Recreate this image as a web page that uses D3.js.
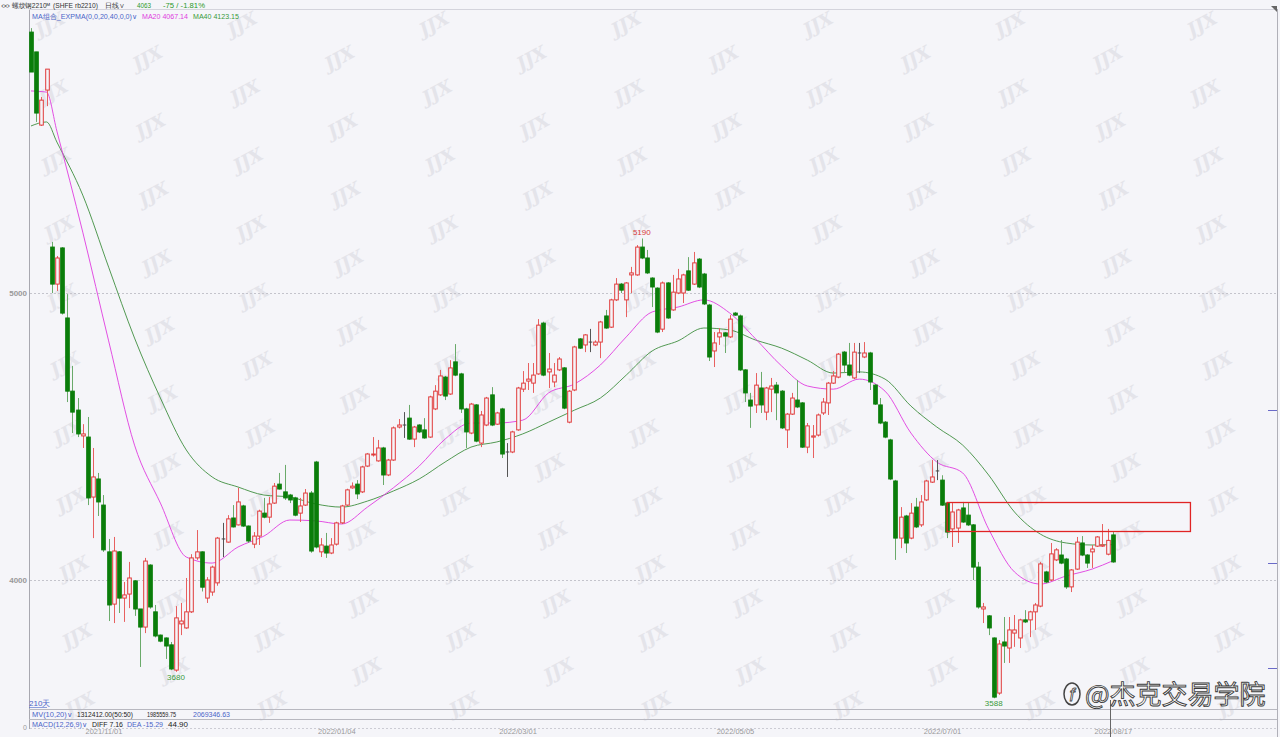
<!DOCTYPE html>
<html><head><meta charset="utf-8">
<script src="https://cdn.jsdelivr.net/npm/d3@7"></script>
<style>
html,body{margin:0;padding:0;background:#f5f5f9;overflow:hidden}
svg{display:block}
text{font-family:"Liberation Sans",Arial,sans-serif}
</style></head><body>
<svg id="c" width="1280" height="737"></svg>
<script>
// ---------- data ----------
const openP = [5909,5840,5585,5707,5160,5031,5157,4913,4658,4592,4502,4498,4289,4352,4261,4098,3916,4098,3937,3951,3997,3899,3836,4052,3889,3808,3798,3774,3686,3847,3833,3889,4077,4098,3937,3958,3990,4143,4132,4216,4192,4258,4188,4125,4153,4233,4219,4268,4334,4307,4296,4286,4233,4261,4303,4411,4098,4118,4094,4125,4199,4261,4321,4334,4307,4397,4436,4415,4460,4366,4418,4533,4540,4564,4491,4540,4523,4498,4596,4645,4707,4648,4760,4718,4596,4512,4610,4477,4540,4645,4543,4596,4446,4446,4523,4665,4693,4686,4718,4895,4725,4690,4732,4739,4550,4662,4840,4819,4829,4819,4829,4920,4881,4976,5031,4976,5063,5063,5160,5122,5052,5017,4874,5035,4941,5000,5000,5077,5031,5118,5066,4958,4798,4847,4861,4847,4930,4920,4732,4627,4610,4669,4585,4665,4679,4658,4523,4578,4627,4617,4463,4498,4505,4582,4617,4686,4707,4794,4749,4704,4791,4777,4791,4679,4610,4550,4488,4345,4146,4223,4146,4254,4192,4279,4341,4380,4348,4268,4178,4181,4251,4226,4192,4045,3899,3875,3798,3606,3784,3763,3815,3798,3861,3861,3889,3909,4028,4000,4070,4087,4073,3976,4038,4129,4087,4098,4118,4118,4090,4157];
const highP = [5923,5840,5683,5780,5178,5129,5160,4996,4746,4634,4543,4568,4460,4373,4296,4143,4150,4101,3993,4063,4000,3899,4077,4055,3913,3810,3800,3784,3909,3920,4007,4090,4174,4100,4010,4050,4150,4199,4226,4261,4321,4262,4190,4167,4245,4286,4289,4338,4373,4401,4300,4290,4286,4317,4310,4415,4146,4164,4146,4203,4262,4318,4340,4348,4398,4442,4498,4488,4464,4422,4535,4561,4585,4610,4537,4543,4564,4642,4679,4732,4711,4766,4822,4722,4600,4617,4613,4589,4638,4672,4586,4600,4477,4520,4673,4728,4756,4756,4909,4900,4791,4756,4777,4742,4662,4816,4843,4857,4875,4835,4903,4941,4980,5052,5035,5038,5091,5167,5190,5150,5055,5020,5040,5038,5063,5084,5067,5125,5143,5122,5070,4962,4864,4878,4864,4923,4934,4925,4735,4652,4721,4725,4673,4704,4690,4662,4582,4652,4697,4620,4547,4540,4580,4634,4690,4728,4791,4798,4826,4826,4826,4829,4795,4683,4634,4554,4492,4349,4254,4227,4268,4286,4296,4349,4418,4418,4365,4272,4268,4248,4272,4268,4195,4063,3920,3878,3800,3791,3871,3871,3878,3865,3895,3893,3920,4063,4032,4129,4111,4139,4077,4038,4150,4153,4090,4122,4153,4195,4178,4167];
const lowP = [5770,5596,5582,5651,5000,5007,4925,4620,4512,4498,4460,4261,4146,4223,4098,3857,3850,3885,3854,3902,3875,3697,3815,3900,3800,3783,3725,3686,3680,3808,3830,3885,4070,3960,3920,3945,3980,4080,4130,4183,4190,4185,4130,4111,4122,4215,4199,4265,4315,4279,4268,4222,4202,4258,4095,4110,4080,4077,4090,4120,4195,4258,4318,4282,4303,4394,4430,4412,4331,4362,4415,4528,4495,4488,4463,4512,4492,4495,4592,4641,4627,4645,4710,4582,4460,4508,4480,4463,4536,4536,4540,4425,4359,4442,4520,4655,4662,4652,4715,4710,4669,4672,4728,4595,4546,4658,4805,4794,4794,4815,4773,4875,4878,4972,5000,4916,5000,5060,5118,5066,4951,4860,4864,4910,4938,4996,4965,5007,5028,5017,4958,4763,4742,4819,4791,4843,4920,4728,4620,4530,4582,4582,4557,4585,4557,4526,4460,4575,4599,4460,4442,4425,4500,4575,4575,4683,4703,4721,4710,4700,4721,4773,4662,4610,4543,4494,4348,4070,4111,4094,4142,4181,4185,4275,4338,4348,4258,4146,4115,4129,4199,4188,4000,3900,3850,3808,3588,3600,3711,3711,3767,3763,3850,3801,3826,3905,3989,3996,4066,4055,3969,3958,4035,4083,4042,4042,4115,4115,4086,4060];
const closeP = [5770,5627,5672,5780,5031,5122,4930,4658,4585,4509,4509,4286,4359,4272,4105,3913,4101,3937,3948,4007,3899,3836,4066,3906,3805,3787,3770,3690,3868,3857,3889,4077,4098,3975,4000,4045,4146,4143,4213,4185,4272,4188,4136,4153,4240,4219,4265,4327,4317,4286,4279,4226,4258,4303,4101,4115,4122,4094,4122,4199,4258,4314,4327,4300,4394,4439,4439,4460,4366,4418,4530,4540,4540,4491,4533,4516,4495,4638,4658,4711,4641,4739,4714,4596,4516,4613,4484,4575,4634,4540,4582,4439,4446,4516,4669,4686,4700,4714,4888,4714,4735,4714,4770,4599,4658,4812,4808,4854,4829,4829,4899,4878,4976,5031,5010,5035,5070,5160,5122,5070,5021,4864,5035,4913,5003,5049,5063,5010,5105,5021,4962,4777,4826,4861,4850,4909,4923,4732,4652,4606,4679,4610,4669,4676,4652,4530,4578,4634,4603,4463,4537,4502,4575,4620,4686,4711,4787,4749,4714,4794,4791,4791,4690,4613,4547,4498,4352,4146,4219,4129,4233,4185,4272,4345,4359,4380,4261,4167,4237,4244,4202,4192,4045,3906,3906,3833,3592,3777,3770,3826,3826,3861,3854,3889,3913,4056,3993,4091,4105,4059,3976,4035,4132,4087,4059,4108,4150,4122,4138,4063];

const maIndex = [0,3,5,10,15,20,25,30,35,40,45,50,55,60,65,70,75,80,85,90,95,100,105,110,115,120,125,130,135,140,145,150,155,160,165,170,175,180,185,190,195,200,205,209];
const ma20 = [5704,5700,5564,5212,4833,4470,4268,4080,4059,4115,4153,4209,4206,4195,4254,4321,4397,4491,4547,4547,4557,4652,4683,4749,4847,4934,4951,4976,4930,4840,4746,4676,4665,4700,4658,4512,4411,4373,4178,4028,3986,4014,4038,4067];
const ma40 = [5582,5596,5526,5341,5090,4843,4634,4453,4359,4324,4296,4289,4265,4254,4275,4310,4352,4411,4463,4481,4509,4550,4592,4634,4714,4798,4833,4878,4871,4836,4808,4766,4721,4725,4700,4606,4533,4470,4366,4237,4160,4129,4122,4123];

const tickIndex = [14,59,94,136,176,209];
const tickLabels = ["2021/11/01","2022/01/04","2022/03/01","2022/05/05","2022/07/01","2022/08/17"];
const yTicks = [4000,5000];

const extremes = [{i:118,v:5190,label:"5190",pos:"top",color:"#d83a3a"},
                  {i:28,v:3680,label:"3680",pos:"bottom",color:"#3a9a3a"},
                  {i:186,v:3588,label:"3588",pos:"bottom",color:"#3a9a3a"}];
const boxRange = {i0:177,i1:224,top:4270,bottom:4169};

// ---------- drawing ----------
const svg = d3.select("#c");
const W = 1280, H = 737;
const x = d3.scaleLinear().domain([0,209]).range([31,1112.8]);
const y = d3.scaleLinear().domain([4000,5000]).range([580,293]);

svg.append("rect").attr("width",W).attr("height",H).attr("fill","#f5f5f9");

// watermarks
const wm = svg.append("g");
for(let r=0;r<22;r++){
  for(let c=-1;c<8;c++){
    const cx = c*192 + (r%2?96:0) + 50 + r*1.5;
    const cy = r*34 + 24;
    if(cx<18||cx>1262||cy<14||cy>720) continue;
    wm.append("text").attr("transform",`translate(${cx},${cy}) rotate(-28)`)
      .attr("text-anchor","middle").attr("dy","0.35em")
      .style("font-family","'DejaVu Serif',serif").style("font-style","italic").style("font-weight","bold")
      .style("font-size","18px").attr("fill","#e4e4ea").text("JJX");
  }
}

// frame lines
svg.append("line").attr("x1",29).attr("x2",1277).attr("y1",9.5).attr("y2",9.5).attr("stroke","#d4d4dc");
svg.append("line").attr("x1",29.5).attr("x2",29.5).attr("y1",10).attr("y2",729).attr("stroke","#a8a8b0");
svg.append("line").attr("x1",1277.5).attr("x2",1277.5).attr("y1",9).attr("y2",737).attr("stroke","#b0b0b8");
svg.append("path").attr("d","M1271,6 L1277,6 L1277,12 Z").attr("fill","#666");

// grid
svg.append("g").selectAll("line").data(yTicks).join("line")
  .attr("x1",30).attr("x2",1277).attr("y1",d=>Math.round(y(d))+0.5).attr("y2",d=>Math.round(y(d))+0.5)
  .attr("stroke","#c4c4cc").attr("stroke-dasharray","2,2");

// y axis
const ya = svg.append("g").attr("transform","translate(28,0)")
  .call(d3.axisLeft(y).tickValues(yTicks).tickSize(0).tickPadding(1).tickFormat(d3.format("d")));
ya.select(".domain").remove();
ya.selectAll("text").style("font-size","8px").style("font-weight","bold").attr("fill","#999");

// right markers
svg.append("g").selectAll("line").data([410,563,668]).join("line")
  .attr("x1",1268).attr("x2",1277).attr("y1",d=>d+0.5).attr("y2",d=>d+0.5).attr("stroke","#6a6ac8");

// MA lines
const maLine = arr => d3.line().x((d,k)=>x(maIndex[k])).y(d=>y(d)).curve(d3.curveMonotoneX)(arr);
svg.append("path").attr("d",maLine(ma40)).attr("fill","none").attr("stroke","#3f8f3f").attr("stroke-width",0.9);
svg.append("path").attr("d",maLine(ma20)).attr("fill","none").attr("stroke","#e03ce0").attr("stroke-width",0.9);

// candles
const idx = d3.range(openP.length);
const bw = 3.6;
const col = i => closeP[i] > openP[i] ? "up" : (closeP[i] < openP[i] ? "down" : "flat");
const cg = svg.append("g");
cg.selectAll("line.wick").data(idx).join("line").attr("class","wick")
  .attr("x1",i=>Math.round(x(i))+0.5).attr("x2",i=>Math.round(x(i))+0.5)
  .attr("y1",i=>y(highP[i])).attr("y2",i=>y(lowP[i]))
  .attr("stroke",i=>({up:"#e86060",down:"#6aaa6a",flat:"#555"})[col(i)]).attr("stroke-width",1);
cg.selectAll("rect.body").data(idx.filter(i=>col(i)!=="flat")).join("rect").attr("class","body")
  .attr("x",i=>Math.round(x(i))+0.5-bw/2)
  .attr("width",bw)
  .attr("y",i=>y(Math.max(openP[i],closeP[i])))
  .attr("height",i=>Math.max(1,Math.abs(y(openP[i])-y(closeP[i]))))
  .attr("fill",i=>col(i)==="up"?"#f5f5f9":"#0a7d0a")
  .attr("stroke",i=>col(i)==="up"?"#e03a3a":"#0a7d0a").attr("stroke-width",1);
cg.selectAll("line.doji").data(idx.filter(i=>col(i)==="flat")).join("line").attr("class","doji")
  .attr("x1",i=>Math.round(x(i))+0.5-bw/2).attr("x2",i=>Math.round(x(i))+0.5+bw/2)
  .attr("y1",i=>y(openP[i])).attr("y2",i=>y(openP[i])).attr("stroke","#444");

// extreme labels
svg.append("g").selectAll("text").data(extremes).join("text")
  .attr("x",d=>x(d.i)).attr("y",d=>d.pos==="top"?y(d.v)-3:y(d.v)+8)
  .attr("text-anchor","middle").style("font-size","8px").attr("fill",d=>d.color).text(d=>d.label);

// box
svg.append("rect").attr("x",x(boxRange.i0)).attr("y",y(boxRange.top))
  .attr("width",x(boxRange.i1)-x(boxRange.i0)).attr("height",y(boxRange.bottom)-y(boxRange.top))
  .attr("fill","none").attr("stroke","#e02424").attr("stroke-width",1.3);

// fitted text helper
function fitText(items, yy, fs){
  svg.append("g").selectAll("text").data(items).join("text")
    .attr("x",d=>d.x).attr("y",yy).style("font-size",(fs||8)+"px").attr("fill",d=>d.c)
    .attr("textLength",d=>d.w).attr("lengthAdjust","spacingAndGlyphs").text(d=>d.t);
}

// header
fitText([{x:1,w:9,t:"∞",c:"#555"},{x:12,w:38,t:"螺纹钢2210ᴹ",c:"#333"},
         {x:53,w:45,t:"(SHFE rb2210)",c:"#333"},{x:105,w:20,t:"日线∨",c:"#333"},
         {x:137,w:14,t:"4063",c:"#2a9a2a"},{x:163,w:42,t:"-75 / -1.81%",c:"#2a9a2a"}], 7.5, 7);
fitText([{x:32,w:105,t:"MA组合_EXPMA(0,0,20,40,0,0)∨",c:"#4a64c8"},
         {x:142,w:46,t:"MA20 4067.14",c:"#e03ce0"},
         {x:193,w:46,t:"MA40 4123.15",c:"#3a9a3a"}], 18.5, 7);

// bottom panel
svg.append("text").attr("x",29).attr("y",706).style("font-size","8px").attr("fill","#4a64c8").text("210天");
svg.append("line").attr("x1",29).attr("x2",47).attr("y1",707.5).attr("y2",707.5).attr("stroke","#4a64c8").attr("stroke-width",0.6);
svg.append("line").attr("x1",29).attr("x2",1277).attr("y1",709.5).attr("y2",709.5).attr("stroke","#b8b8c0");
fitText([{x:32,w:40,t:"MV(10,20)∨",c:"#4a64c8"},{x:77,w:56,t:"1312412.00(50:50)",c:"#222"},
         {x:147,w:29,t:"1985559.75",c:"#222"},{x:193,w:37,t:"2069346.63",c:"#4a64c8"}], 716.5, 7);
svg.append("line").attr("x1",29).attr("x2",1277).attr("y1",719.5).attr("y2",719.5).attr("stroke","#b8b8c0");
fitText([{x:32,w:55,t:"MACD(12,26,9)∨",c:"#4a64c8"},{x:92,w:31,t:"DIFF 7.16",c:"#222"},
         {x:127,w:36,t:"DEA -15.29",c:"#4a64c8"},{x:168,w:20,t:"44.90",c:"#222"}], 726.5, 7);
svg.append("text").attr("x",27).attr("y",730).attr("text-anchor","end").style("font-size","7px").attr("fill","#999").text("0");
svg.append("line").attr("x1",30).attr("x2",1277).attr("y1",728.5).attr("y2",728.5).attr("stroke","#ccccd4").attr("stroke-dasharray","2,2");

// date axis
const xa = svg.append("g").attr("transform","translate(0,728)")
  .call(d3.axisBottom(x).tickValues(tickIndex).tickSize(0).tickPadding(1).tickFormat((d,k)=>tickLabels[k]));
xa.select(".domain").remove();
xa.selectAll("text").style("font-size","7.5px").attr("fill","#999");

// cursor line
svg.append("line").attr("x1",1110.5).attr("x2",1110.5).attr("y1",700).attr("y2",737).attr("stroke","#666");

// source watermark
const sw = svg.append("g");
sw.append("ellipse").attr("cx",1072).attr("cy",694).attr("rx",8).attr("ry",11).attr("fill","none").attr("stroke","#444").attr("stroke-width",1.5);
sw.append("text").attr("x",1072).attr("y",701).attr("text-anchor","middle").style("font-size","18px").style("font-style","italic").attr("fill","#fff").attr("stroke","#444").attr("stroke-width",0.8).text("f");
sw.append("text").attr("x",1085).attr("y",704)
  .style("font-family","'Noto Sans CJK SC',sans-serif").style("font-size","26px")
  .attr("fill","#ffffff").attr("stroke","#3a3a3a").attr("stroke-width",0.9).text("@杰克交易学院");
</script>
</body></html>
